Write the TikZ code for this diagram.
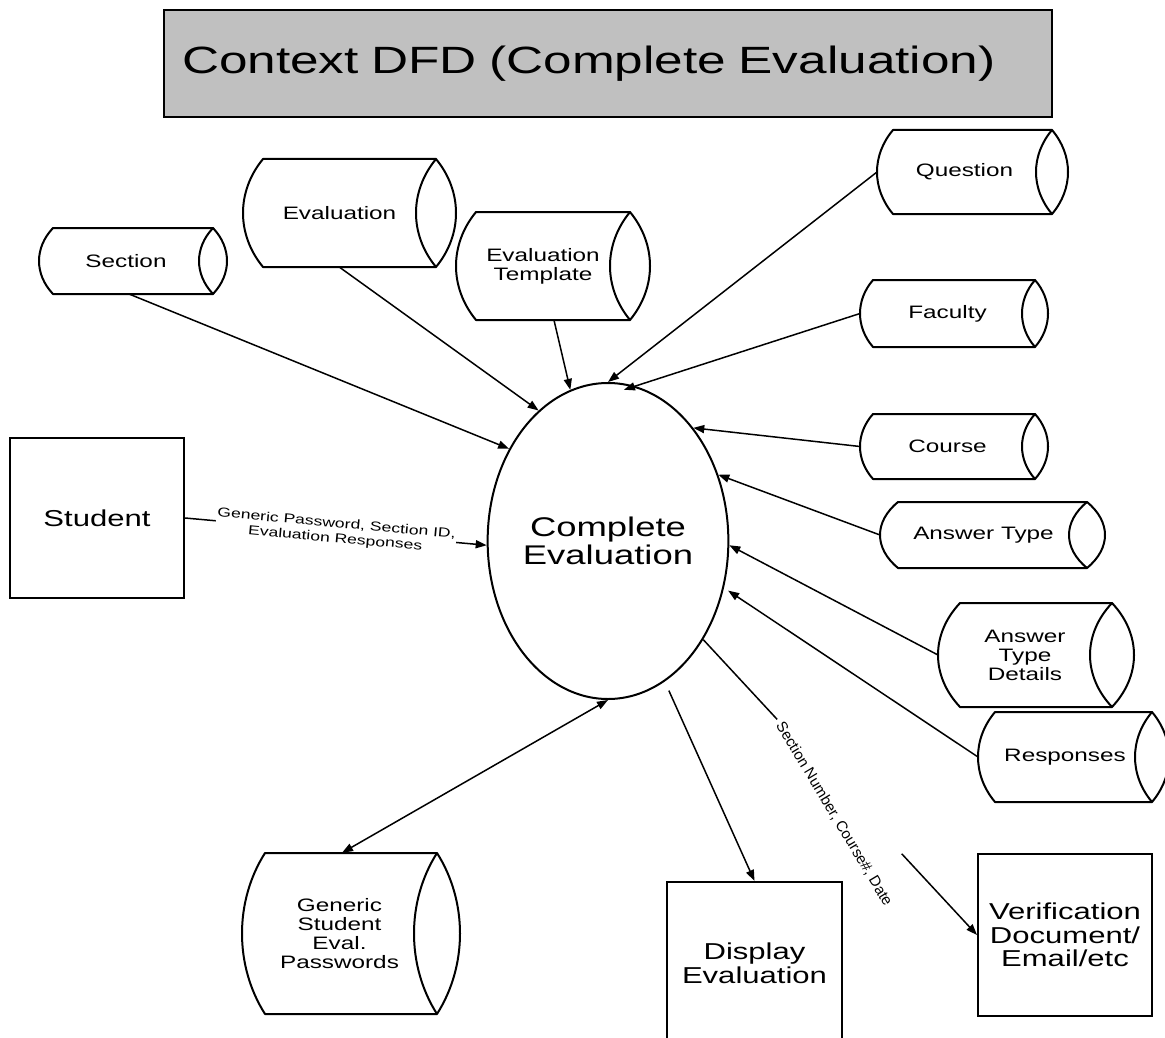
\documentclass[tikz,border=0pt]{standalone}
\usepackage{fontspec}
\setmainfont{Liberation Sans}[FakeStretch=1.35]
\newfontfamily\plainsans{Liberation Sans}
\usetikzlibrary{arrows.meta,calc,shapes.geometric}
\definecolor{titlegray}{RGB}{192,192,192}

\tikzset{
  outline/.style={draw=black, line width=2pt},
  flow/.style={line width=1.5pt, -{Triangle[length=11pt,width=8pt]}},
  flowboth/.style={line width=1.5pt, {Triangle[length=11pt,width=8pt]}-{Triangle[length=11pt,width=8pt]}},
  plainflow/.style={line width=1.5pt},
  entity/.style={outline, rectangle, inner sep=2pt, align=center,
    font=\fontsize{23}{23.5}\selectfont},
  storebody/.style={rectangle, inner sep=0pt, align=center,
    font=\fontsize{18}{19}\selectfont},
  storeline/.style={line width=2pt, line join=round},
  process/.style={outline, ellipse, inner sep=0pt, minimum width=234pt,
    minimum height=316pt, align=center, font=\fontsize{27}{28}\selectfont},
  flowlabel/.style={fill=white, inner sep=1pt, align=center,
    font=\fontsize{13}{15}\selectfont},
}

% data store: name, left end of top line, right end of top line,
% top, bottom, bulge of the end caps, label
% the label sits half a bulge left of the body's middle;
% (name-w) is the outermost point of the rounded left end
\newcommand\dfdstore[7]{%
  \pgfmathsetmacro\stw{#3-#2}%
  \pgfmathsetmacro\sth{#5-#4}%
  \pgfmathsetmacro\stx{(#2+#3)/2-#6/2}%
  \pgfmathsetmacro\sty{(#4+#5)/2}%
  \pgfmathsetmacro\stk{4*#6/3}%
  \pgfmathsetmacro\stm{0.3*(#5-#4)}%
  \node[storebody, minimum width=\stw pt, minimum height=\sth pt] (#1) at (\stx,\sty) {#7};
  \draw[storeline] (#3,#4) -- (#2,#4)
    .. controls (#2-\stk,#4+\stm) and (#2-\stk,#5-\stm) .. (#2,#5) -- (#3,#5);
  \draw[storeline] (#3,#4)
    .. controls (#3+\stk,#4+\stm) and (#3+\stk,#5-\stm) .. (#3,#5)
    .. controls (#3-\stk,#5-\stm) and (#3-\stk,#4+\stm) .. cycle;
  \coordinate (#1-w) at (#2-#6,\sty);
}

\begin{document}
\begin{tikzpicture}[x=1pt,y=-1pt]
\useasboundingbox (0,0) rectangle (1165,1038);
\clip (0,0) rectangle (1165,1038);

% title
\node[outline, fill=titlegray, minimum height=107pt, text width=852pt,
  inner xsep=18pt, inner ysep=0pt, align=left,
  font=\fontsize{38}{44}\selectfont] (title) at (608,63.5)
  {\raisebox{-4pt}{Context DFD (Complete Evaluation)}};

% process
\node[process] (ce) at (608,541) {Complete\\Evaluation};

% external entities
\node[entity, minimum width=174pt, minimum height=160pt] (stu) at (97,518) {Student};
\node[entity, minimum width=175pt, minimum height=163pt] (disp) at (754.5,963.5) {Display\\Evaluation};
\node[entity, minimum width=174pt, minimum height=162pt] (ver) at (1065,935) {Verification\\Document/\\Email/etc};

% data stores
\dfdstore{sec}{53}{213}{228}{294}{14}{Section}
\dfdstore{eval}{263}{436}{159}{267}{20}{Evaluation}
\dfdstore{et}{476}{630}{212}{320}{20}{Evaluation\\Template}
\dfdstore{q}{893}{1052}{130}{214}{16}{Question}
\dfdstore{fac}{873}{1035}{280}{347}{13}{Faculty}
\dfdstore{cou}{873}{1035}{414}{479}{13}{Course}
\dfdstore{at}{898}{1087}{502}{568}{18}{Answer Type}
\dfdstore{atd}{960}{1112}{603}{707}{22}{Answer\\Type\\Details}
\dfdstore{resp}{995}{1152}{712}{802}{17}{Responses}
\dfdstore{gen}{265}{437}{853}{1014}{23}{Generic\\Student\\Eval.\\Passwords}

% flows into the process
\draw[flow] ([xshift=3.5pt]sec.south) -- (ce.137);
\draw[flow] (eval.south) -- (ce.118);
\draw[flow] ([xshift=11pt]et.south) -- (ce.104);
\draw[flow] (q-w) -- (ce.north);
\draw[flow, shorten >=-12pt] (fac-w) -- (ce.80);
\draw[flow] (cou-w) -- (ce.53);
\draw[flow] (at-w) -- (ce.31);
\draw[flow] (atd-w) -- (ce.-2);
\draw[flow, shorten >=5pt] (resp-w) -- (ce.-22);

\draw[flow] (stu.east) -- node[flowlabel, sloped]
  {Generic Password, Section ID,\\Evaluation Responses} (ce.182);

% flows out of the process
\draw[flowboth] ([xshift=2.5pt]gen.north) -- (ce.south);
\draw[flow, shorten <=10pt] (ce.-68) -- (disp.north);

\coordinate (g1) at ($(ce.-46)!0.27!(ver.west)$);
\coordinate (g2) at ($(ce.-46)!0.725!(ver.west)$);
\draw[plainflow] (ce.-46) -- (g1);
\draw[flow] (g2) -- (ver.west);
\node[rotate=-59, inner sep=0pt, font=\plainsans\fontsize{15}{16}\selectfont]
  (vlabel) at (834,814) {Section Number, Course\#, Date};
\end{tikzpicture}
\end{document}
